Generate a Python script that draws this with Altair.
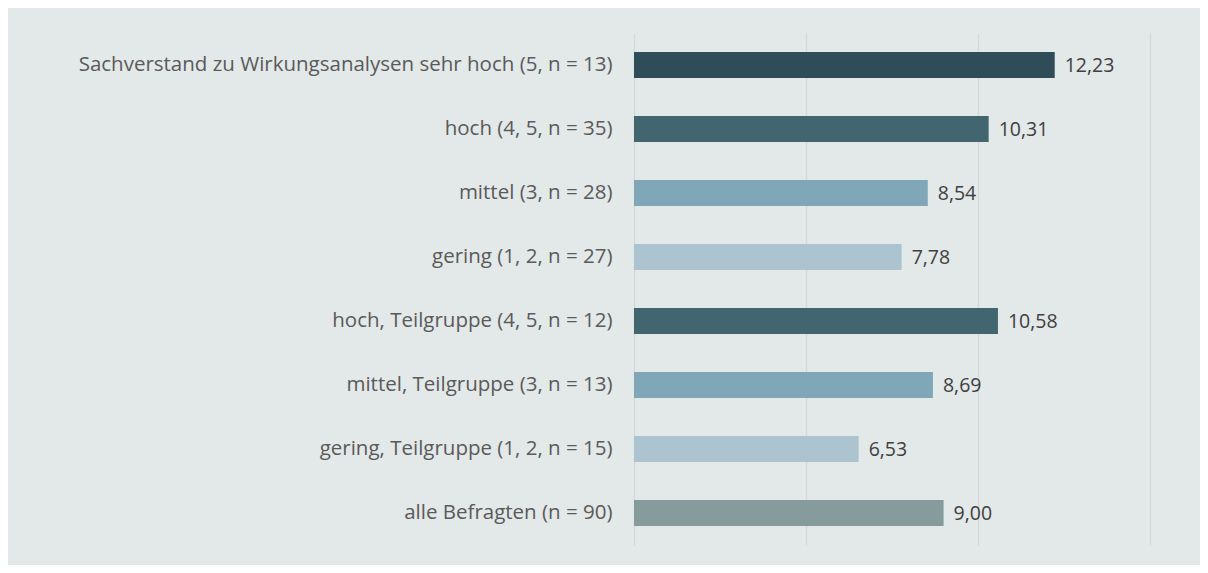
import altair as alt
import pandas as pd

categories = [
    "Sachverstand zu Wirkungsanalysen sehr hoch (5, n = 13)",
    "hoch (4, 5, n = 35)",
    "mittel (3, n = 28)",
    "gering (1, 2,  n = 27)",
    "hoch, Teilgruppe (4, 5, n = 12)",
    "mittel, Teilgruppe (3, n = 13)",
    "gering, Teilgruppe (1, 2, n = 15)",
    "alle Befragten (n = 90)",
]
values = [12.23, 10.31, 8.54, 7.78, 10.58, 8.69, 6.53, 9.00]
groups = ["sehr hoch", "hoch", "mittel", "gering", "hoch", "mittel", "gering", "alle"]

group_domain = ["sehr hoch", "hoch", "mittel", "gering", "alle"]
group_colors = ["#2f4d58", "#41666f", "#80a7b7", "#abc4cf", "#869b9b"]

df = pd.DataFrame({
    "cat": categories,
    "val": values,
    "grp": groups,
    "lbl": [f"{v:.2f}".replace(".", ",") for v in values],
})

FONT = "Open Sans"

y_enc = alt.Y("cat:N", sort=categories, title=None,
              scale=alt.Scale(paddingInner=0.59, paddingOuter=0.295),
              axis=alt.Axis(labelFont=FONT, labelFontSize=20.5, labelColor="#5a5a5a",
                            labelPadding=22, ticks=False, domain=False, grid=False,
                            labelLimit=700))
x_enc = alt.X("val:Q", title=None,
              scale=alt.Scale(domain=[0, 15], nice=False),
              axis=alt.Axis(values=[0, 5, 10, 15], labels=False, ticks=False,
                            domain=False, grid=True, gridColor="#d3d8d8", gridWidth=1.3))

bars = alt.Chart(df).mark_bar().encode(
    y=y_enc, x=x_enc,
    color=alt.Color("grp:N", scale=alt.Scale(domain=group_domain, range=group_colors), legend=None),
)
text = alt.Chart(df).mark_text(align="left", baseline="middle", dx=10, dy=1, font=FONT,
                               fontSize=19.5, color="#404040").encode(
    y=alt.Y("cat:N", sort=categories), x="val:Q", text="lbl:N")

chart = (bars + text).properties(
    width=516, height=512,
    background="#e3e8e8",
    padding={"left": 626, "top": 25, "right": 50, "bottom": 20},
    autosize=alt.AutoSizeParams(type="none"),
).configure_view(stroke=None)

chart.save("out.html", embed_options={"renderer": "svg", "actions": False})
